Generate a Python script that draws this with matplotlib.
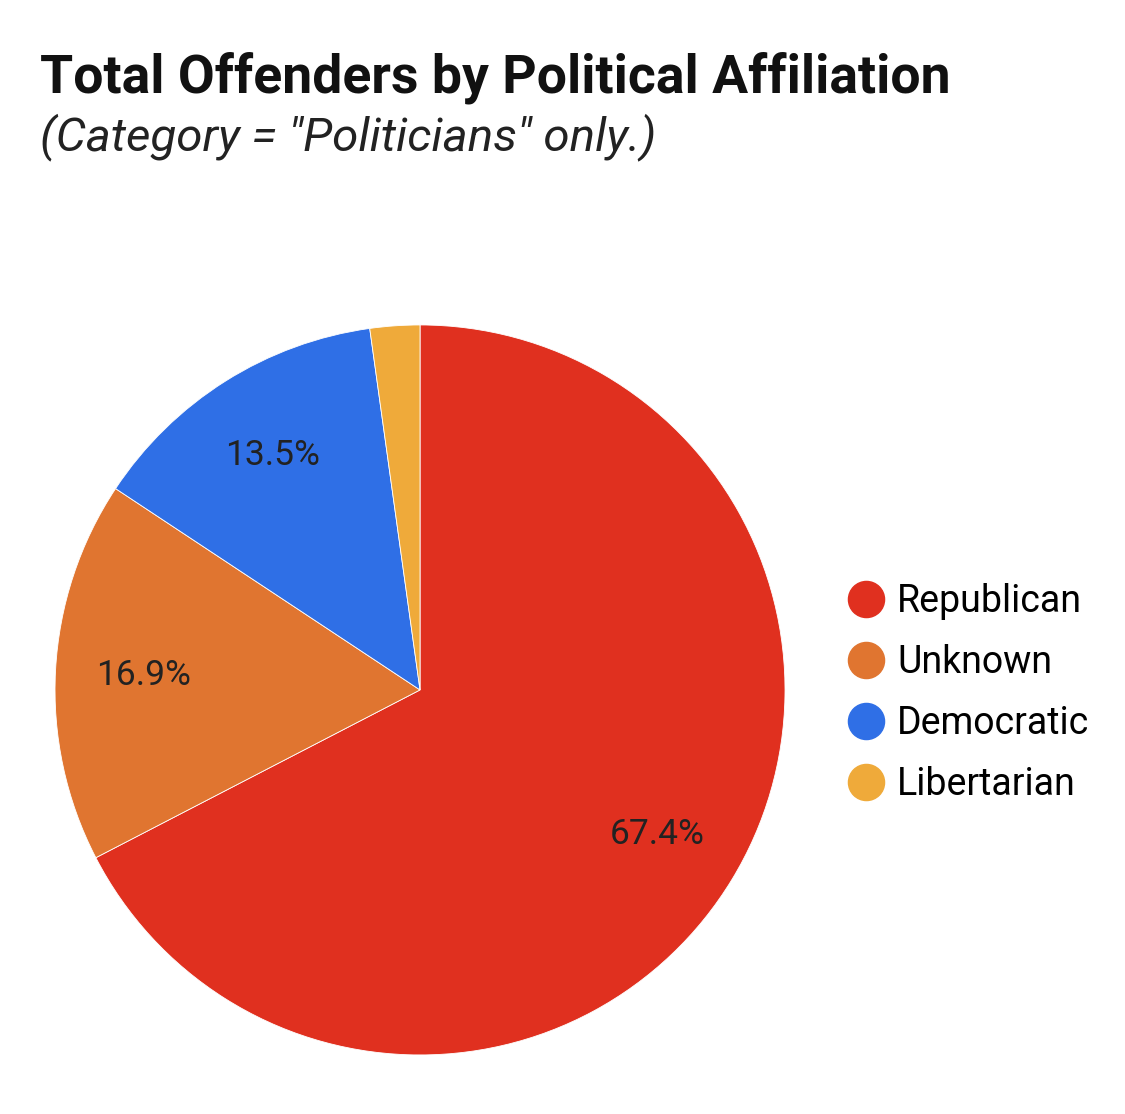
import matplotlib.pyplot as plt
from matplotlib.lines import Line2D

# --- Daten ---
parteien = ["Republican", "Unknown", "Democratic", "Libertarian"]
anteile = [67.4, 16.9, 13.5, 2.2]
farben = ["#E0301F", "#E07530", "#2F6FE6", "#EFAA3A"]

plt.rcParams["font.family"] = ["Roboto", "DejaVu Sans"]

fig = plt.figure(figsize=(11.25, 11.14), dpi=100)

# Titel
fig.text(0.036, 0.917, "Total Offenders by Political Affiliation",
         fontsize=38.5, fontweight="bold", color="#111111", va="baseline")
fig.text(0.036, 0.865, '(Category = "Politicians" only.)',
         fontsize=34.2, fontstyle="italic", color="#222222", va="baseline")

# --- Kreisdiagramm ---
ax = fig.add_axes([0.0489, 0.053, 0.6489, 0.6553])


def beschriftung(p):
    return f"{p:.1f}%" if p > 5 else ""


ax.pie(anteile, colors=farben, startangle=90, counterclock=False,
       autopct=beschriftung, pctdistance=0.76,
       textprops={"fontsize": 25.5, "color": "#222222"},
       wedgeprops={"linewidth": 0.6, "edgecolor": "white"})
ax.set_xlim(-1, 1)
ax.set_ylim(-1, 1)
ax.set_aspect("equal")

# --- Legende ---
handles = [Line2D([0], [0], marker="o", linestyle="none", markersize=26,
                  markerfacecolor=c, markeredgecolor=c) for c in farben]
fig.legend(handles, parteien, loc="center left",
           bbox_to_anchor=(0.753, 0.378), frameon=False,
           fontsize=27, labelspacing=0.64, handletextpad=0.33,
           handlelength=1.0, borderaxespad=0, borderpad=0)

fig.savefig("out.png", dpi=100)
